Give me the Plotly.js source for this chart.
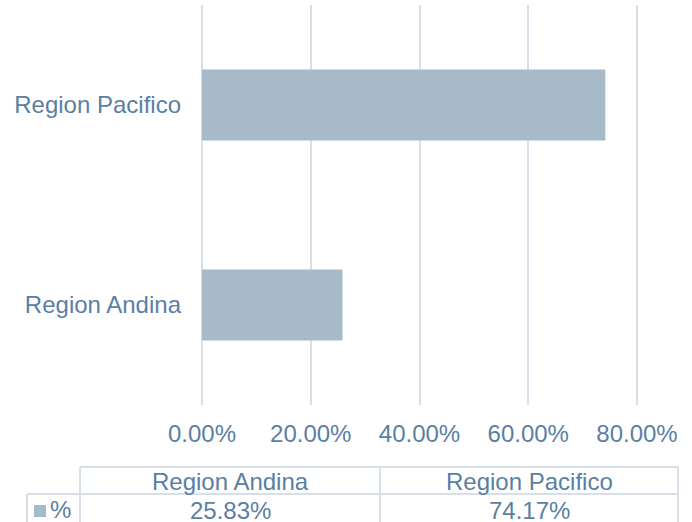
<!DOCTYPE html>
<html>
<head>
<meta charset="utf-8">
<script src="https://cdn.plot.ly/plotly-3.0.1.min.js"></script>
<style>
  html, body { margin: 0; padding: 0; background: #ffffff; }
  #chart { width: 692px; height: 522px; }
</style>
</head>
<body>
<div id="chart"></div>
<script>
// ---- data ----
var categories = ['Region Andina', 'Region Pacifico'];
var seriesName = '%';
var values = [0.2583, 0.7417];
var tickValues = [0, 0.2, 0.4, 0.6, 0.8];
var tickLabels = ['0.00%', '20.00%', '40.00%', '60.00%', '80.00%'];

// ---- style ----
var W = 692, H = 522;
var ML = 199, MR = 52, MT = 5, MB = 117;
var PW = W - ML - MR, PH = H - MT - MB;
var pxPerUnit = 435 / 0.8;
var xPad = 3 / pxPerUnit;
var textColor = '#5A7FA3';
var gridColor = '#D7E0E9';
var barColor = '#A6BAC8';
var fontFam = 'Liberation Sans, Arial, sans-serif';
var fontSize = 24;

function px2x(px) { return (px - ML) / PW; }
function px2y(py) { return (H - MB - py) / PH; }

// table geometry (pixels)
var tblTop = 467, tblMid = 494, tblBot = 530;
var keyLeft = 27, colEdges = [80, 380, 678];

var shapes = [];
function hline(x0, x1, y) {
  shapes.push({type: 'line', xref: 'paper', yref: 'paper',
    x0: px2x(x0), x1: px2x(x1), y0: px2y(y), y1: px2y(y),
    line: {color: gridColor, width: 2}});
}
function vline(x, y0, y1) {
  shapes.push({type: 'line', xref: 'paper', yref: 'paper',
    x0: px2x(x), x1: px2x(x), y0: px2y(y0), y1: px2y(y1),
    line: {color: gridColor, width: 2}});
}
hline(colEdges[0], colEdges[colEdges.length - 1], tblTop);
hline(keyLeft, colEdges[colEdges.length - 1], tblMid);
vline(keyLeft, tblMid, tblBot);
colEdges.forEach(function (x) { vline(x, tblTop, tblBot); });
// legend key square
shapes.push({type: 'rect', xref: 'paper', yref: 'paper',
  x0: px2x(34), x1: px2x(46), y0: px2y(505), y1: px2y(517),
  fillcolor: barColor, line: {width: 0}});

var annotations = [];
categories.forEach(function (c, i) {
  var cx = (colEdges[i] + colEdges[i + 1]) / 2;
  annotations.push({xref: 'paper', yref: 'paper', x: px2x(cx), y: px2y(481),
    text: c, showarrow: false, xanchor: 'center', yanchor: 'middle',
    font: {family: fontFam, size: fontSize, color: textColor}});
  annotations.push({xref: 'paper', yref: 'paper', x: px2x(cx), y: px2y(510),
    text: (values[i] * 100).toFixed(2) + '%', showarrow: false, xanchor: 'center', yanchor: 'middle',
    font: {family: fontFam, size: fontSize, color: textColor}});
});
annotations.push({xref: 'paper', yref: 'paper', x: px2x(48), y: px2y(509),
  text: seriesName, showarrow: false, xanchor: 'left', yanchor: 'middle',
  font: {family: fontFam, size: fontSize, color: textColor}});

var trace = {
  type: 'bar',
  orientation: 'h',
  y: categories,
  x: values,
  name: seriesName,
  marker: {color: barColor, line: {width: 0}},
  hoverinfo: 'x+y'
};

var layout = {
  width: W, height: H,
  margin: {l: ML, r: MR, t: MT, b: MB, pad: 0},
  paper_bgcolor: '#ffffff',
  plot_bgcolor: '#ffffff',
  showlegend: false,
  bargap: 0.645,
  font: {family: fontFam, size: fontSize, color: textColor},
  xaxis: {
    range: [-xPad, 0.8 + xPad],
    tickvals: tickValues,
    ticktext: tickLabels,
    showgrid: true, gridcolor: gridColor, gridwidth: 2,
    zeroline: false, showline: false, ticks: '',
    ticklabelstandoff: 12,
    tickfont: {family: fontFam, size: fontSize, color: textColor},
    fixedrange: true
  },
  yaxis: {
    type: 'category',
    categoryorder: 'array', categoryarray: categories,
    range: [-0.5, 1.5],
    showgrid: false, zeroline: false, showline: false, ticks: '',
    ticklabelstandoff: 17,
    tickfont: {family: fontFam, size: fontSize, color: textColor},
    fixedrange: true
  },
  shapes: shapes,
  annotations: annotations
};

Plotly.newPlot('chart', [trace], layout, {displayModeBar: false, staticPlot: true});
</script>
</body>
</html>
